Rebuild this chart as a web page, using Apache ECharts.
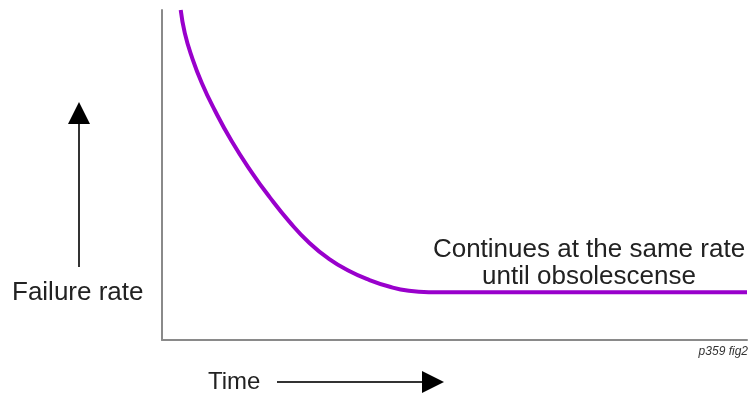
<!DOCTYPE html>
<html>
<head>
<meta charset="utf-8">
<script src="https://cdn.jsdelivr.net/npm/echarts@6/dist/echarts.min.js"></script>
<style>html,body{margin:0;padding:0;background:#fff}#c{width:750px;height:398px}</style>
</head>
<body>
<div id="c"></div>
<script>
// Failure rate curve (early failures falling, then constant rate)
var timeValues = [3.2, 3.9, 5.1, 6.8, 9.0, 11.9, 15.3, 18.4, 21.8, 25.2, 28.6, 32.0, 35.4, 38.8, 42.2, 45.6, 60, 80, 100];
var failureRate = [100, 93.0, 85.8, 77.9, 69.7, 60.3, 50.9, 43.3, 35.8, 29.4, 24.5, 20.9, 18.2, 16.2, 14.9, 14.5, 14.5, 14.5, 14.5];
var yAxisLabel = 'Failure rate';
var xAxisLabel = 'Time';
var annotationLines = ['Continues at the same rate', 'until obsolescense'];
var figNote = 'p359 fig2';

var chart = echarts.init(document.getElementById('c'), null, {renderer: 'canvas'});
var pts = timeValues.map(function (t, i) { return [t, failureRate[i]]; });
var font = '"Liberation Sans", Arial, Helvetica, sans-serif';

chart.setOption({
  animation: false,
  backgroundColor: '#fff',
  grid: {left: 162, right: 3, top: 10, bottom: 58},
  xAxis: {
    type: 'value', min: 0, max: 100,
    axisLine: {show: true, lineStyle: {color: '#8a8a8a', width: 2}},
    axisTick: {show: false}, axisLabel: {show: false}, splitLine: {show: false}
  },
  yAxis: {
    type: 'value', min: 0, max: 100,
    axisLine: {show: true, lineStyle: {color: '#8a8a8a', width: 2}},
    axisTick: {show: false}, axisLabel: {show: false}, splitLine: {show: false}
  },
  series: [{
    type: 'line',
    data: pts,
    smooth: 0.5,
    showSymbol: false,
    lineStyle: {color: '#9900cc', width: 4}
  }],
  graphic: [
    {type: 'text', left: 12, top: 280, style: {text: yAxisLabel, font: '26px ' + font, fill: '#222'}},
    {type: 'line', shape: {x1: 79, y1: 120, x2: 79, y2: 267}, style: {stroke: '#333', lineWidth: 2}},
    {type: 'polygon', shape: {points: [[79, 102], [68, 124], [90, 124]]}, style: {fill: '#000'}},
    {type: 'text', left: 208, top: 370, style: {text: xAxisLabel, font: '24px ' + font, fill: '#222'}},
    {type: 'line', shape: {x1: 277, y1: 382, x2: 425, y2: 382}, style: {stroke: '#333', lineWidth: 2}},
    {type: 'polygon', shape: {points: [[444, 382], [422, 371], [422, 393]]}, style: {fill: '#000'}},
    {type: 'text', x: 589, y: 236, style: {text: annotationLines.join('\n'), font: '26px ' + font, fill: '#222', textAlign: 'center', lineHeight: 27}},
    {type: 'text', right: 2, top: 346, style: {text: figNote, font: 'italic 12px ' + font, fill: '#333'}}
  ]
});
</script>
</body>
</html>
